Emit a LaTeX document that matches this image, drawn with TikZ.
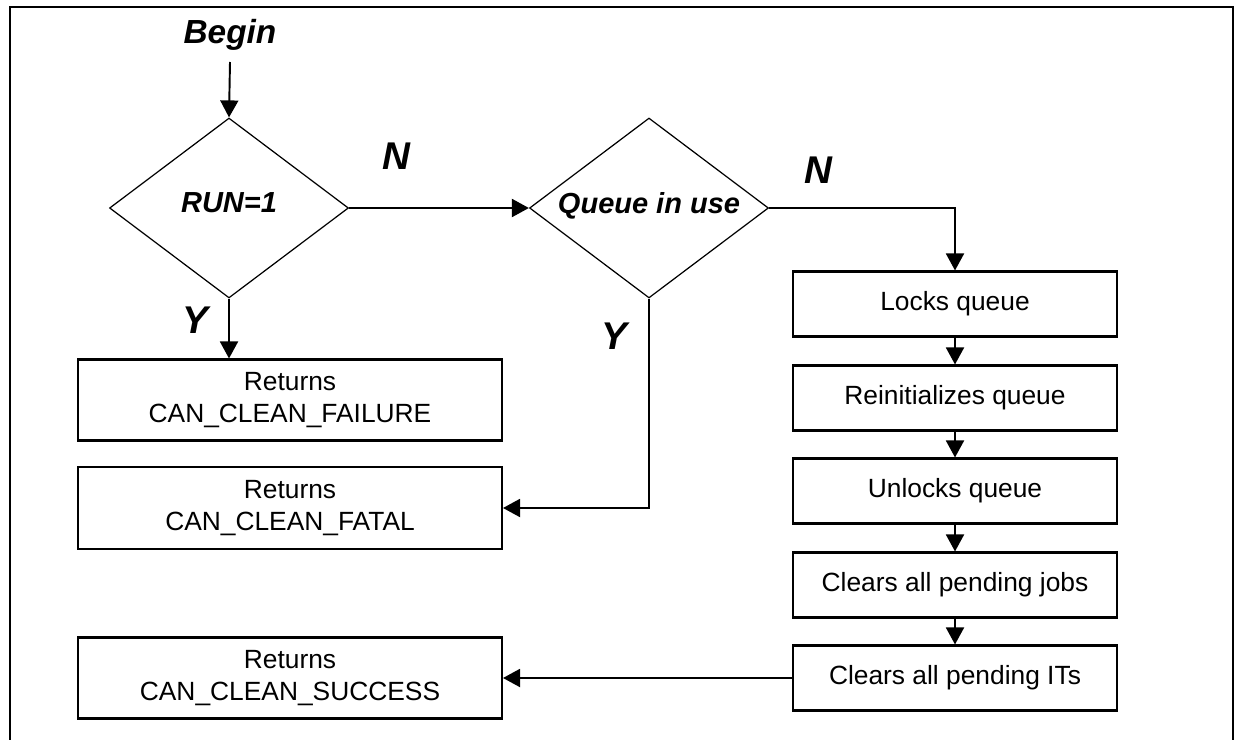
\documentclass[tikz,border=0pt]{standalone}
\usepackage{fontspec}
\setmainfont{Liberation Sans}
\usetikzlibrary{shapes.geometric,arrows.meta}

\begin{document}
\begin{tikzpicture}[x=0.02cm, y=-0.02cm, ->, >={Triangle[length=3.4mm,width=3.6mm]}, line width=1.1pt]
	\tikzstyle{proc}=[draw=black, text=black, line width=1.2pt, inner sep=0pt,
	align=center, font=\fontsize{15}{18.2}\selectfont]
	\tikzstyle{decision}=[diamond, draw=black, line width=0.7pt, inner sep=0pt,
	minimum width=4.78cm, minimum height=3.6cm]
	\tikzstyle{asktext}=[inner sep=0pt, font=\fontsize{16.5}{19}\selectfont\bfseries\itshape]
	\tikzstyle{answer}=[inner sep=0pt, font=\fontsize{22}{24}\selectfont\bfseries\itshape]

	% frame and page size
	\useasboundingbox (0,0) rectangle (1237,740);
	\draw[-, line width=1.1pt] (10,760) -- (10,7) -- (1233,7) -- (1233,760);

	% left part
	\node[font=\fontsize{19}{21}\selectfont\bfseries\itshape] (begin) at (230,35) {Begin};
	\node[decision] (run) at (229,208) {};
	\node[asktext] (runtext) at (229,203) {RUN=1};
	\node[proc, minimum width=8.48cm, minimum height=1.62cm] (fail) at (290,400) {Returns\\CAN\_CLEAN\_FAILURE};
	\node[proc, minimum width=8.48cm, minimum height=1.64cm] (fatal) at (290,508) {Returns\\CAN\_CLEAN\_FATAL};
	\node[proc, minimum width=8.48cm, minimum height=1.62cm] (succ) at (290,678) {Returns\\CAN\_CLEAN\_SUCCESS};

	% middle part
	\node[decision] (queue) at (649,208) {};
	\node[asktext] (queuetext) at (649,206) {Queue in use};

	% right column
	\node[proc, minimum width=6.48cm, minimum height=1.3cm] (lock) at (955,304) {Locks queue};
	\node[proc, minimum width=6.48cm, minimum height=1.3cm] (reinit) at (955,398) {Reinitializes queue};
	\node[proc, minimum width=6.48cm, minimum height=1.3cm] (unlock) at (955,491) {Unlocks queue};
	\node[proc, minimum width=6.48cm, minimum height=1.3cm] (jobs) at (955,585) {Clears all pending jobs};
	\node[proc, minimum width=6.48cm, minimum height=1.3cm] (its) at (955,678) {Clears all pending ITs};

	% Y / N labels
	\node[answer] (n1) at (396,156) {N}; \node[answer] (n2) at (818,170) {N};
	\node[answer] (y1) at (195,320) {Y}; \node[answer] (y2) at (614,336) {Y};

	% connectors
	\draw (begin.south |- 0,62) -- (run.north);
	\draw (run.east) -- (queue.west);
	\draw (run.south) -- (run.south |- fail.north);
	\draw (queue.south) |- (fatal.east);
	\draw (queue.east) -| (lock.north);
	\draw (lock) -- (reinit); \draw (reinit) -- (unlock);
	\draw (unlock) -- (jobs); \draw (jobs) -- (its);
	\draw (its.west) -- (succ.east);
\end{tikzpicture}
\end{document}
